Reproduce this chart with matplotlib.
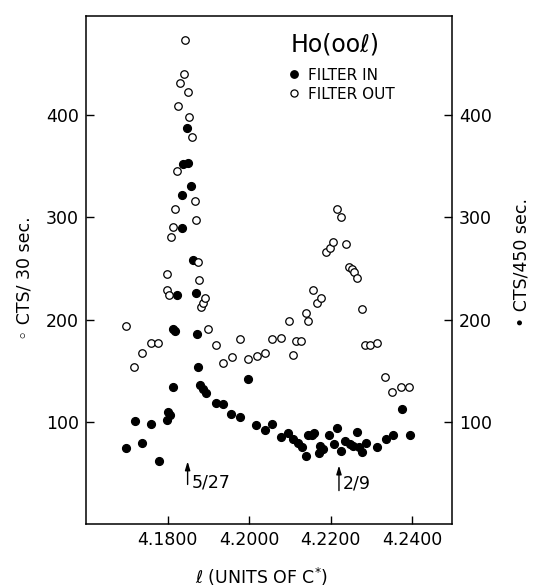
import matplotlib
matplotlib.use("Agg")
import matplotlib.pyplot as plt

# Ho(00l) scan, filter in (filled) / filter out (open)
l_in = [4.1699, 4.1721, 4.1738, 4.1760, 4.1780, 4.1799, 4.1801, 4.1805, 4.1813, 4.1813,
        4.1819, 4.1824, 4.1835, 4.1836, 4.1837, 4.1847, 4.1851, 4.1857, 4.1861, 4.1869,
        4.1873, 4.1875, 4.1880, 4.1886, 4.1895, 4.1918, 4.1936, 4.1956, 4.1977, 4.1998,
        4.2017, 4.2038, 4.2057, 4.2079, 4.2096, 4.2108, 4.2119, 4.2129, 4.2140, 4.2143,
        4.2154, 4.2159, 4.2170, 4.2174, 4.2180, 4.2196, 4.2209, 4.2216, 4.2225, 4.2235,
        4.2246, 4.2255, 4.2265, 4.2268, 4.2277, 4.2287, 4.2314, 4.2335, 4.2352, 4.2374,
        4.2393]
cts_in = [74, 101, 79, 98, 62, 102, 110, 107, 134, 191,
          189, 224, 290, 322, 352, 387, 353, 331, 258, 226,
          186, 154, 136, 132, 128, 118, 117, 108, 105, 142,
          97, 92, 98, 85, 89, 83, 79, 75, 67, 87,
          87, 89, 69, 76, 73, 87, 78, 94, 71, 81,
          78, 76, 90, 75, 70, 79, 75, 83, 87, 113,
          87]

l_out = [4.1697, 4.1717, 4.1738, 4.1759, 4.1776, 4.1798, 4.1799, 4.1804, 4.1809, 4.1813,
         4.1817, 4.1822, 4.1826, 4.1831, 4.1840, 4.1842, 4.1849, 4.1853, 4.1860, 4.1867,
         4.1870, 4.1874, 4.1878, 4.1883, 4.1886, 4.1892, 4.1899, 4.1918, 4.1936, 4.1958,
         4.1978, 4.1998, 4.2019, 4.2038, 4.2056, 4.2077, 4.2098, 4.2108, 4.2115, 4.2127,
         4.2139, 4.2145, 4.2157, 4.2167, 4.2176, 4.2188, 4.2197, 4.2206, 4.2215, 4.2224,
         4.2236, 4.2244, 4.2251, 4.2256, 4.2264, 4.2277, 4.2284, 4.2296, 4.2313, 4.2333,
         4.2351, 4.2372, 4.2392]
cts_out = [194, 154, 167, 177, 177, 229, 245, 224, 281, 291,
           308, 345, 409, 431, 440, 474, 423, 398, 379, 316,
           297, 256, 239, 212, 216, 221, 191, 175, 158, 163,
           181, 161, 164, 167, 181, 182, 199, 165, 179, 179,
           206, 199, 229, 216, 221, 266, 270, 276, 308, 300,
           274, 251, 249, 247, 241, 210, 175, 175, 177, 144,
           129, 134, 134]

xticks = [4.18, 4.20, 4.22, 4.24]
xticklabels = ["4.1800", "4.2000", "4.2200", "4.2400"]
yticks = [100, 200, 300, 400]

fig = plt.figure(figsize=(5.33, 5.88), dpi=100)
ax = fig.add_axes([0.1614, 0.1088, 0.6866, 0.864])

ax.plot(l_in, cts_in, "o", color="black", markersize=5.6, label="FILTER IN")
ax.plot(l_out, cts_out, "o", mfc="white", mec="black", mew=0.9, markersize=5.4,
        label="FILTER OUT")

ax.set_xlim(4.16, 4.2497)
ax.set_ylim(0, 497)
ax.set_xticks(xticks)
ax.set_xticklabels(xticklabels)
ax.set_yticks(yticks)
ax.tick_params(direction="in", length=6, width=1, labelsize=12.5, pad=5)
ax.tick_params(axis="y", right=True, labelright=True)
for s in ax.spines.values():
    s.set_linewidth(1.1)

ax.set_xlabel(r"$\ell$ (UNITS OF C$^{*}$)", fontsize=12.5, va="center")
ax.xaxis.set_label_coords(0.48, -0.104)
ax.set_ylabel("◦ CTS/ 30 sec.", fontsize=12.5, va="center")
ax.yaxis.set_label_coords(-0.169, 0.484)
fig.text(0.979, 0.553, "• CTS/450 sec.", rotation=90, fontsize=12.5,
         ha="center", va="center")

# reflection markers
ax.annotate("", xy=(4.1849, 64), xytext=(4.1849, 36),
            arrowprops=dict(arrowstyle="-|>,head_width=0.15,head_length=0.5",
                            color="black", lw=1))
ax.text(4.1858, 41, "5/27", fontsize=12.5, va="center", ha="left")
ax.annotate("", xy=(4.2220, 60), xytext=(4.2220, 30),
            arrowprops=dict(arrowstyle="-|>,head_width=0.15,head_length=0.5",
                            color="black", lw=1))
ax.text(4.2230, 40, "2/9", fontsize=12.5, va="center", ha="left")

ax.text(0.558, 0.943, "Ho(ooℓ)", transform=ax.transAxes, fontsize=17,
        ha="left", va="center")
ax.legend(loc="upper left", bbox_to_anchor=(0.548, 0.898), frameon=False,
          fontsize=11, handletextpad=0.4, handlelength=1.0, borderaxespad=0,
          borderpad=0, labelspacing=0.25, markerscale=0.95)

fig.savefig("out.png", dpi=100)
